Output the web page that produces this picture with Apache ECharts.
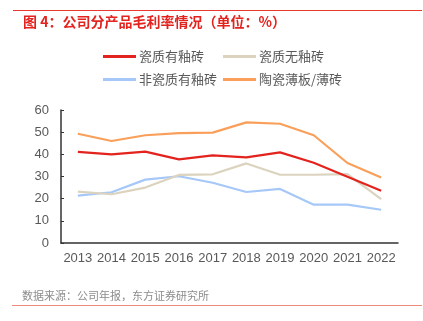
<!DOCTYPE html>
<html><head><meta charset="utf-8">
<script src="https://cdn.jsdelivr.net/npm/echarts@6/dist/echarts.min.js"></script>
<style>html,body{margin:0;padding:0;background:#fff}#c{width:423px;height:321px}</style>
</head><body><div id="c"></div>
<script>
var years = ['2013','2014','2015','2016','2017','2018','2019','2020','2021','2022'];
var yTicks = [0,10,20,30,40,50,60];
var seriesNames = ['瓷质有釉砖','瓷质无釉砖','非瓷质有釉砖','陶瓷薄板/薄砖'];
var glazedPorcelain = [41.1,40.0,41.2,37.7,39.5,38.6,40.9,36.2,29.9,23.6];
var unglazedPorcelain = [23.2,22.0,25.0,30.7,31.0,35.9,30.8,30.8,31.1,19.8];
var nonPorcelainGlazed = [21.4,22.9,28.6,30.1,27.2,23.0,24.4,17.3,17.3,15.0];
var thinPanel = [49.3,46.0,48.6,49.6,49.8,54.4,53.8,48.6,36.1,29.5];
var colors = ['#e3231e','#dcd3bf','#a6c8f8','#fa9f5a'];
var values = [glazedPorcelain, unglazedPorcelain, nonPorcelainGlazed, thinPanel];
var font = '"Liberation Sans", Arial, sans-serif';
var legendPos = [[103,50],[223,50],[103,73],[223,73]];
var chart = echarts.init(document.getElementById('c'));
chart.setOption({
  animation:false,
  color: colors,
  graphic:[
    {type:'line',shape:{x1:13,y1:10.5,x2:422,y2:10.5},style:{stroke:'#e8382f',lineWidth:1}},
    {type:'text',left:23,top:15,style:{text:'图 4：公司分产品毛利率情况（单位：%）',fill:'#e3231e',font:'bold 14px "Noto Sans CJK SC", sans-serif'}},
    {type:'text',left:22,top:290,style:{text:'数据来源：公司年报，东方证券研究所',fill:'#8c8c8c',font:'11px "Noto Sans CJK SC", sans-serif'}},
    {type:'line',shape:{x1:12,y1:305.5,x2:422,y2:305.5},style:{stroke:'#f0897a',lineWidth:1}}
  ],
  legend: seriesNames.map(function(n,i){return {
    data:[n], left:legendPos[i][0], top:legendPos[i][1], itemWidth:33, itemHeight:3, itemGap:0, padding:0,
    icon:'rect', textStyle:{color:'#595959',fontSize:13,fontFamily:'"Noto Sans CJK SC", sans-serif',padding:[0,0,0,-2]}
  };}),
  grid:{left:61,right:25,top:110,bottom:78},
  xAxis:{type:'category',data:years,boundaryGap:true,
    axisLine:{lineStyle:{color:'#333',width:1.5}},
    axisTick:{inside:true,length:3,lineStyle:{color:'#333'}},
    axisLabel:{color:'#595959',fontSize:13,fontFamily:font,margin:9,interval:0}},
  yAxis:{type:'value',min:0,max:60,interval:10,
    axisLine:{show:true,lineStyle:{color:'#333',width:1.5}},
    axisTick:{show:true,inside:true,length:3,lineStyle:{color:'#333'}},
    splitLine:{show:false},
    axisLabel:{color:'#595959',fontSize:13,fontFamily:font,margin:12}},
  series: seriesNames.map(function(n,i){return {
    name:n,type:'line',data:values[i],symbol:'none',lineStyle:{width:2.2,color:colors[i]},z:[3,2,1,4][i]
  };})
});
</script></body></html>
